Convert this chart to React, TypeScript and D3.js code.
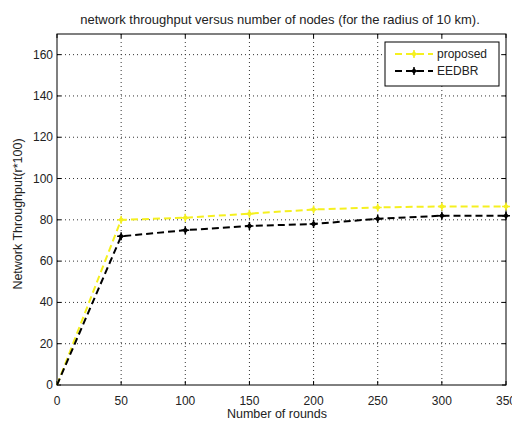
import React from "react";
import * as d3 from "d3";

const rounds = [0, 50, 100, 150, 200, 250, 300, 350];
const proposed = [0, 80, 81, 83, 85, 86, 86.5, 86.5];
const eedbr = [0, 72, 75, 77, 78, 80.5, 82, 82];
const xTicks = [0, 50, 100, 150, 200, 250, 300, 350];
const yTicks = [0, 20, 40, 60, 80, 100, 120, 140, 160];
const seriesNames = ["proposed", "EEDBR"];
const seriesColors = ["#f5f020", "#000000"];

const W = 512, H = 424;
const L = 57, R = 506, T = 34, B = 385;

function Marker({ x, y, color }: { x: number; y: number; color: string }) {
  const s = 4;
  return (
    <g>
      <path d={`M${x - s},${y}L${x + s},${y}M${x},${y - s}L${x},${y + s}`} stroke={color} strokeWidth={1.5} />
      <path d={`M${x},${y - 3}L${x + 3},${y}L${x},${y + 3}L${x - 3},${y}Z`} fill={color} />
    </g>
  );
}

export default function App() {
  const x = d3.scaleLinear().domain([0, 350]).range([L, R]);
  const y = d3.scaleLinear().domain([0, 170]).range([B, T]);
  const line = d3.line<number>().x((_, i) => x(rounds[i])).y((d) => y(d));
  const data = [proposed, eedbr];
  const font = "Liberation Sans, Arial, sans-serif";
  return (
    <svg width={W} height={H} style={{ position: "absolute", left: 0, top: 0, background: "#fff" }} fontFamily={font}>
      <rect x={0} y={0} width={W} height={H} fill="#fff" />
      <text x={280} y={24} textAnchor="middle" fontSize={13} fill="#222">
        network throughput versus number of nodes (for the radius of 10 km).
      </text>
      {xTicks.map((t) => (
        <g key={"x" + t}>
          {t > 0 && t < 350 && (
            <line x1={x(t)} x2={x(t)} y1={T} y2={B} stroke="#333" strokeWidth={1} strokeDasharray="1,3" />
          )}
          <line x1={x(t)} x2={x(t)} y1={B} y2={B - 4} stroke="#000" />
          <line x1={x(t)} x2={x(t)} y1={T} y2={T + 4} stroke="#000" />
          <text x={x(t)} y={B + 20} textAnchor="middle" fontSize={12} fill="#222">{t}</text>
        </g>
      ))}
      {yTicks.map((t) => (
        <g key={"y" + t}>
          {t > 0 && (
            <line x1={L} x2={R} y1={y(t)} y2={y(t)} stroke="#333" strokeWidth={1} strokeDasharray="1,3" />
          )}
          <line x1={L} x2={L + 4} y1={y(t)} y2={y(t)} stroke="#000" />
          <line x1={R} x2={R - 4} y1={y(t)} y2={y(t)} stroke="#000" />
          <text x={L - 4} y={y(t) + 4} textAnchor="end" fontSize={12} fill="#222">{t}</text>
        </g>
      ))}
      <rect x={L} y={T} width={R - L} height={B - T} fill="none" stroke="#000" strokeWidth={1} />
      {data.map((d, i) => (
        <g key={"s" + i}>
          <path d={line(d) || ""} fill="none" stroke={seriesColors[i]} strokeWidth={2} strokeDasharray="7,4" />
          {d.map((v, j) => j > 0 && <Marker key={j} x={x(rounds[j])} y={y(v)} color={seriesColors[i]} />)}
        </g>
      ))}
      <g>
        <rect x={385} y={42} width={114} height={44} fill="#fff" stroke="#000" strokeWidth={1} />
        {seriesNames.map((n, i) => {
          const ly = 54 + i * 17;
          return (
            <g key={n}>
              <line x1={395} x2={433} y1={ly} y2={ly} stroke={seriesColors[i]} strokeWidth={2} strokeDasharray="7,4" />
              <Marker x={414} y={ly} color={seriesColors[i]} />
              <text x={437} y={ly + 4} fontSize={12} fill="#222">{n}</text>
            </g>
          );
        })}
      </g>
      <text x={277} y={418} textAnchor="middle" fontSize={12.5} fill="#222">Number of rounds</text>
      <text transform={`translate(22,214) rotate(-90)`} textAnchor="middle" fontSize={12.5} fill="#222">
        Network Throughput(r*100)
      </text>
    </svg>
  );
}
